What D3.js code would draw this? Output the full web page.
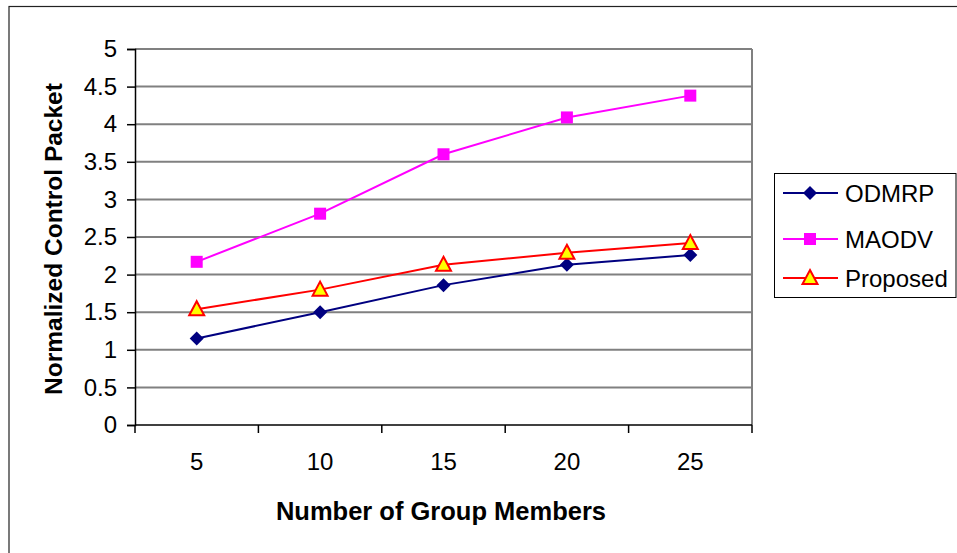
<!DOCTYPE html>
<html>
<head>
<meta charset="utf-8">
<script src="https://cdn.jsdelivr.net/npm/d3@7"></script>
<style>
  html, body { margin: 0; padding: 0; background: #fff; }
  svg { display: block; font-family: Arial, "Liberation Sans", sans-serif; }
</style>
</head>
<body>
<svg id="chart" width="957" height="553"></svg>
<script>
// Group sizes on the x axis
const categories = [5, 10, 15, 20, 25];
// Normalized control packet overhead per protocol
const odmrp    = [1.15, 1.50, 1.86, 2.13, 2.26];
const maodv    = [2.17, 2.81, 3.60, 4.09, 4.38];
const proposed = [1.54, 1.80, 2.13, 2.29, 2.42];
const seriesNames = ["ODMRP", "MAODV", "Proposed"];
const yTicks = [0, 0.5, 1, 1.5, 2, 2.5, 3, 3.5, 4, 4.5, 5];

const series = [
  { name: seriesNames[0], values: odmrp,    color: "#000080", marker: "diamond" },
  { name: seriesNames[1], values: maodv,    color: "#FF00FF", marker: "square" },
  { name: seriesNames[2], values: proposed, color: "#FF0000", marker: "triangle" }
];

const FONT = "Arial, 'Liberation Sans', sans-serif";
const svg = d3.select("#chart");

// Outer chart frame (extends past right/bottom edges)
svg.append("rect")
  .attr("x", 9).attr("y", 6.5).attr("width", 960).attr("height", 560)
  .attr("fill", "#fff").attr("stroke", "#222").attr("stroke-width", 1.2);

const plot = { left: 135, top: 49, right: 752, bottom: 425 };

const x = d3.scaleBand().domain(categories)
  .range([plot.left, plot.right]).padding(0);
const y = d3.scaleLinear().domain([0, 5]).range([plot.bottom, plot.top]);
const cx = d => x(d) + x.bandwidth() / 2;

// Horizontal gridlines
svg.append("g").selectAll("line").data(yTicks.filter(t => t > 0)).join("line")
  .attr("x1", plot.left).attr("x2", plot.right)
  .attr("y1", d => y(d)).attr("y2", d => y(d))
  .attr("stroke", "#808080").attr("stroke-width", 2);

// Right border of plot area
svg.append("line")
  .attr("x1", plot.right).attr("x2", plot.right)
  .attr("y1", plot.top).attr("y2", plot.bottom)
  .attr("stroke", "#808080").attr("stroke-width", 2);

// Y axis
const yAxis = d3.axisLeft(y).tickValues(yTicks).tickSize(8).tickPadding(10)
  .tickFormat(d => d3.format("")(d));
const gy = svg.append("g").attr("transform", `translate(${plot.left},0)`).call(yAxis);
gy.select(".domain").attr("stroke", "#000").attr("stroke-width", 1.5);
gy.selectAll(".tick line").attr("stroke", "#000").attr("stroke-width", 1.5);
gy.selectAll(".tick text").attr("font-size", 24).attr("fill", "#000")
  .attr("font-family", FONT);

// X axis: ticks at category boundaries, labels at centers
const gx = svg.append("g");
gx.append("line")
  .attr("x1", plot.left).attr("x2", plot.right)
  .attr("y1", plot.bottom).attr("y2", plot.bottom)
  .attr("stroke", "#000").attr("stroke-width", 1.5);
const bounds = categories.map(c => x(c)).concat([plot.right]);
gx.selectAll("line.tk").data(bounds).join("line").attr("class", "tk")
  .attr("x1", d => d).attr("x2", d => d)
  .attr("y1", plot.bottom).attr("y2", plot.bottom + 8)
  .attr("stroke", "#000").attr("stroke-width", 1.5);
gx.selectAll("text").data(categories).join("text")
  .attr("x", d => cx(d)).attr("y", 470)
  .attr("text-anchor", "middle").attr("font-size", 24).attr("fill", "#000")
  .text(d => d);

// Axis titles
svg.append("text")
  .attr("x", 441).attr("y", 520).attr("text-anchor", "middle")
  .attr("font-size", 25.5).attr("font-weight", "bold").attr("fill", "#000")
  .text("Number of Group Members");
svg.append("text")
  .attr("transform", `translate(62,239) rotate(-90)`)
  .attr("text-anchor", "middle")
  .attr("font-size", 24.5).attr("font-weight", "bold").attr("fill", "#000")
  .text("Normalized Control Packet");

// Marker shapes
function drawMarker(g, type, color, px, py) {
  if (type === "diamond") {
    g.append("path")
      .attr("d", `M${px},${py - 7}L${px + 7},${py}L${px},${py + 7}L${px - 7},${py}Z`)
      .attr("fill", color);
  } else if (type === "square") {
    g.append("rect").attr("x", px - 6).attr("y", py - 6)
      .attr("width", 12).attr("height", 12).attr("fill", color);
  } else {
    g.append("path")
      .attr("d", `M${px},${py - 8}L${px + 7.5},${py + 6}L${px - 7.5},${py + 6}Z`)
      .attr("fill", "#FFFF00").attr("stroke", color).attr("stroke-width", 2);
  }
}

// Lines and markers
const line = d3.line().x((d, i) => cx(categories[i])).y(d => y(d));
series.forEach(s => {
  const g = svg.append("g");
  g.append("path").datum(s.values).attr("d", line)
    .attr("fill", "none").attr("stroke", s.color).attr("stroke-width", 2);
  s.values.forEach((v, i) => drawMarker(g, s.marker, s.color, cx(categories[i]), y(v)));
});

// Legend
const lg = svg.append("g");
lg.append("rect").attr("x", 774.5).attr("y", 173.5).attr("width", 181.5).attr("height", 124)
  .attr("fill", "#fff").attr("stroke", "#000").attr("stroke-width", 1);
const legendY = [193, 239, 278];
series.forEach((s, i) => {
  const ly = legendY[i];
  lg.append("line").attr("x1", 783).attr("x2", 838).attr("y1", ly).attr("y2", ly)
    .attr("stroke", s.color).attr("stroke-width", 2);
  drawMarker(lg, s.marker, s.color, 810, ly);
  lg.append("text").attr("x", 845).attr("y", ly + 9)
    .attr("font-size", 24).attr("fill", "#000").text(s.name);
});
</script>
</body>
</html>
